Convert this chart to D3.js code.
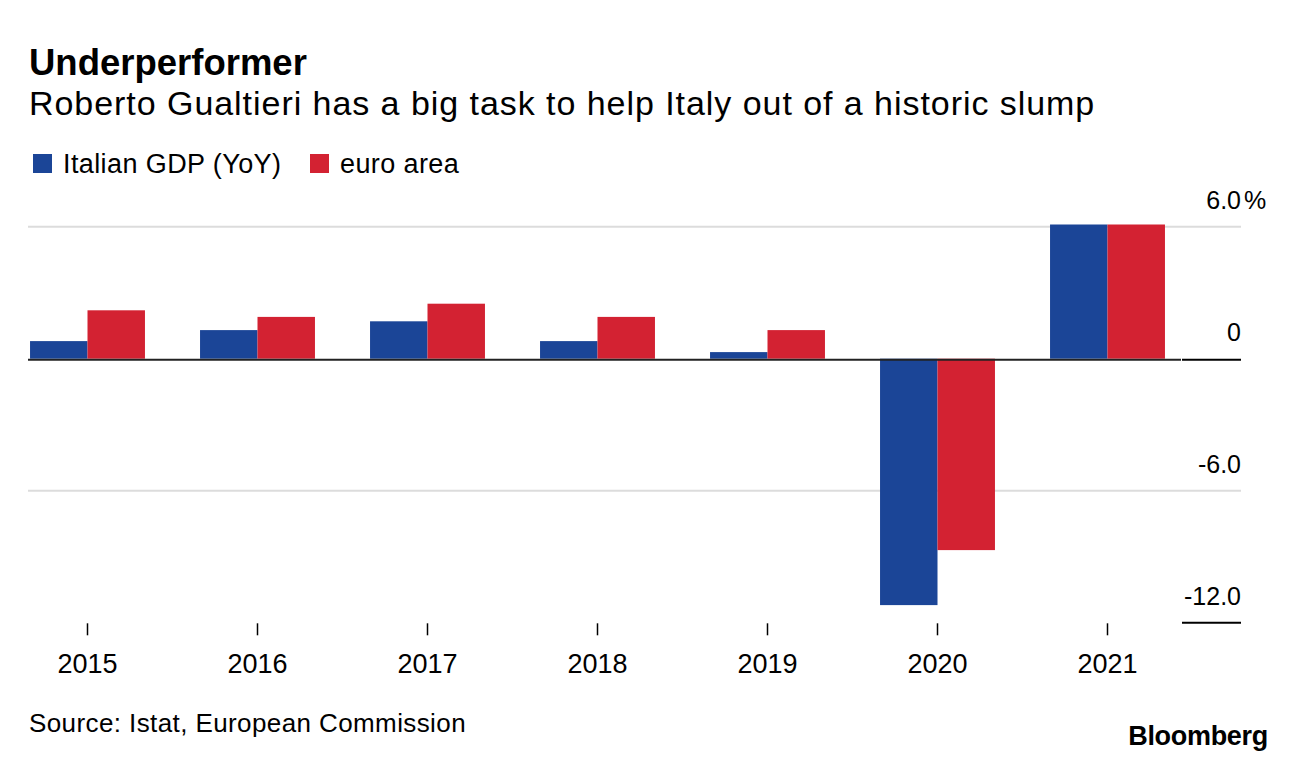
<!DOCTYPE html>
<html>
<head>
<meta charset="utf-8">
<script src="https://cdn.jsdelivr.net/npm/d3@7"></script>
<style>
  html, body { margin: 0; padding: 0; background: #fff; }
  svg { display: block; font-family: "Liberation Sans", Arial, sans-serif; }
</style>
</head>
<body>
<svg id="chart" width="1296" height="760"></svg>
<script>
// ---- data ----
const years = ["2015", "2016", "2017", "2018", "2019", "2020", "2021"];
const seriesNames = ["Italian GDP (YoY)", "euro area"];
const italyGDP = [0.8, 1.3, 1.7, 0.8, 0.3, -11.2, 6.1];
const euroArea = [2.2, 1.9, 2.5, 1.9, 1.3, -8.7, 6.1];
const yTicks = [6, 0, -6, -12];
const yTickLabels = ["6.0", "0", "-6.0", "-12.0"];
const colors = ["#1b4597", "#d32232"];

const svg = d3.select("#chart");

// ---- scales ----
const x = d3.scaleBand().domain(years).range([2.5, 1192.5])
  .paddingInner(0.324).paddingOuter(0.162);
const xInner = d3.scaleBand().domain(seriesNames).range([0, x.bandwidth()]).padding(0);
const y = d3.scaleLinear().domain([-12, 6]).range([622.7, 226.7]);

const plotLeft = 28, plotRight = 1181, labelRight = 1241;

// ---- title ----
svg.append("text").attr("x", 29).attr("y", 75)
  .attr("font-size", 36.5).attr("font-weight", "bold").attr("fill", "#000")
  .text("Underperformer");
svg.append("text").attr("x", 29).attr("y", 115)
  .attr("font-size", 34).attr("letter-spacing", 0.95).attr("fill", "#000")
  .text("Roberto Gualtieri has a big task to help Italy out of a historic slump");

// ---- legend ----
const legendX = [33, 310];
seriesNames.forEach((name, i) => {
  svg.append("rect").attr("x", legendX[i]).attr("y", 154)
    .attr("width", 19).attr("height", 19).attr("fill", colors[i]);
  svg.append("text").attr("x", legendX[i] + 30).attr("y", 173.3)
    .attr("font-size", 27).attr("letter-spacing", 0.4).attr("fill", "#000").text(name);
});

// ---- gridlines ----
yTicks.forEach((t) => {
  if (t === 0 || t === -12) return;
  svg.append("line").attr("x1", plotLeft).attr("x2", labelRight)
    .attr("y1", y(t)).attr("y2", y(t))
    .attr("stroke", "#dcdcdc").attr("stroke-width", 2);
});

// ---- bars ----
const data = years.map((yr, i) => ({ year: yr, values: [italyGDP[i], euroArea[i]] }));
const groups = svg.append("g").selectAll("g").data(data).join("g")
  .attr("transform", d => `translate(${x(d.year)},0)`);
groups.selectAll("rect")
  .data(d => d.values.map((v, j) => ({ v, name: seriesNames[j], j })))
  .join("rect")
  .attr("x", d => xInner(d.name))
  .attr("width", xInner.bandwidth())
  .attr("y", d => d.v >= 0 ? y(d.v) : y(0))
  .attr("height", d => Math.abs(y(d.v) - y(0)))
  .attr("fill", d => colors[d.j]);

// ---- zero line ----
svg.append("line").attr("x1", plotLeft).attr("x2", plotRight)
  .attr("y1", y(0) + 1).attr("y2", y(0) + 1)
  .attr("stroke", "#222").attr("stroke-width", 2);
svg.append("line").attr("x1", plotRight + 1).attr("x2", labelRight)
  .attr("y1", y(0) + 1).attr("y2", y(0) + 1)
  .attr("stroke", "#000").attr("stroke-width", 2);
// bottom short line under -12.0
svg.append("line").attr("x1", plotRight + 1).attr("x2", labelRight)
  .attr("y1", y(-12)).attr("y2", y(-12))
  .attr("stroke", "#000").attr("stroke-width", 2);

// ---- y labels ----
yTicks.forEach((t, i) => {
  svg.append("text").attr("x", labelRight).attr("y", y(t) - 18)
    .attr("text-anchor", "end").attr("font-size", 25).attr("fill", "#000")
    .text(yTickLabels[i]);
  if (i === 0) {
    svg.append("text").attr("x", labelRight + 3).attr("y", y(t) - 18)
      .attr("font-size", 25).attr("fill", "#000").text("%");
  }
});

// ---- x axis ----
const xAxis = d3.axisBottom(x).tickSize(12).tickPadding(16);
const gx = svg.append("g").attr("transform", `translate(0,${y(-12) + 0.6})`).call(xAxis);
gx.select(".domain").remove();
gx.selectAll(".tick line").attr("stroke", "#000").attr("stroke-width", 1.5);
gx.selectAll(".tick text").attr("font-size", 27).attr("fill", "#000")
  .attr("font-family", "Liberation Sans, Arial, sans-serif")
  .attr("dy", null).attr("y", 50);

// ---- footer ----
svg.append("text").attr("x", 29).attr("y", 731.7)
  .attr("font-size", 26).attr("letter-spacing", 0.4).attr("fill", "#000")
  .text("Source: Istat, European Commission");
svg.append("text").attr("x", 1268).attr("y", 745)
  .attr("text-anchor", "end").attr("font-size", 27).attr("font-weight", "bold")
  .attr("letter-spacing", -0.3).attr("fill", "#000")
  .text("Bloomberg");
</script>
</body>
</html>
